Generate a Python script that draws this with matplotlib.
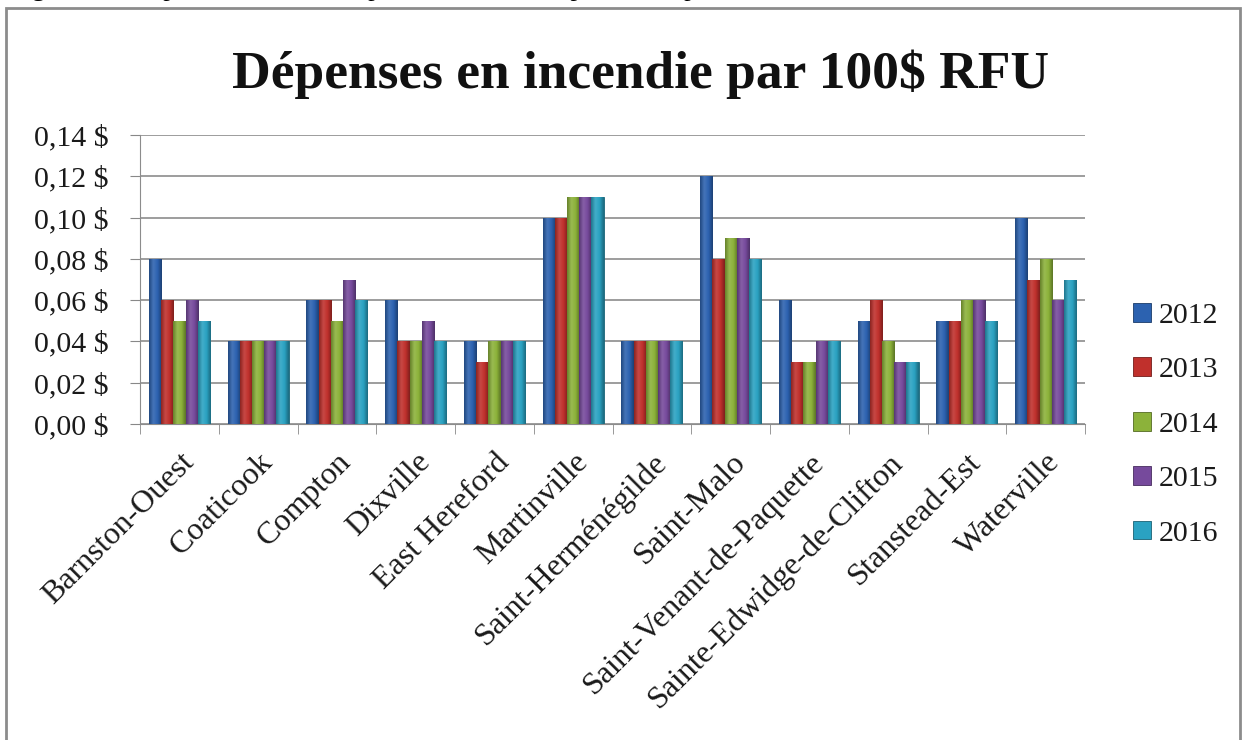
import matplotlib
matplotlib.use("Agg")
import matplotlib.pyplot as plt
import numpy as np
from matplotlib.colors import LinearSegmentedColormap, to_rgb
from matplotlib.patches import Rectangle
from matplotlib.transforms import ScaledTranslation

# data
municipalites = [
    "Barnston-Ouest", "Coaticook", "Compton", "Dixville", "East Hereford",
    "Martinville", "Saint-Herménégilde", "Saint-Malo", "Saint-Venant-de-Paquette",
    "Sainte-Edwidge-de-Clifton", "Stanstead-Est", "Waterville",
]
annees = ["2012", "2013", "2014", "2015", "2016"]
val_2012 = [0.08, 0.04, 0.06, 0.06, 0.04, 0.10, 0.04, 0.12, 0.06, 0.05, 0.05, 0.10]
val_2013 = [0.06, 0.04, 0.06, 0.04, 0.03, 0.10, 0.04, 0.08, 0.03, 0.06, 0.05, 0.07]
val_2014 = [0.05, 0.04, 0.05, 0.04, 0.04, 0.11, 0.04, 0.09, 0.03, 0.04, 0.06, 0.08]
val_2015 = [0.06, 0.04, 0.07, 0.05, 0.04, 0.11, 0.04, 0.09, 0.04, 0.03, 0.06, 0.06]
val_2016 = [0.05, 0.04, 0.06, 0.04, 0.04, 0.11, 0.04, 0.08, 0.04, 0.03, 0.05, 0.07]
y_ticks = [0.00, 0.02, 0.04, 0.06, 0.08, 0.10, 0.12, 0.14]

series = [val_2012, val_2013, val_2014, val_2015, val_2016]
colors = ["#2c62b0", "#c0302c", "#8cb23a", "#764a9c", "#2aa2c2"]

serif = ["Liberation Serif", "DejaVu Serif"]
txt_color = "#1a1a1a"


def shade(color, f):
    r, g, b = to_rgb(color)
    if f < 1:
        return (r * f, g * f, b * f)
    f = f - 1
    return (r + (1 - r) * f, g + (1 - g) * f, b + (1 - b) * f)


def gradient_bars(ax, bars, color):
    # rough imitation of the bevelled Excel bars
    cmap = LinearSegmentedColormap.from_list(
        "g", [shade(color, 0.72), shade(color, 1.12), shade(color, 1.0), shade(color, 0.65)]
    )
    grad = np.linspace(0, 1, 64).reshape(1, -1)
    for b in bars:
        x0, w, h = b.get_x(), b.get_width(), b.get_height()
        im = ax.imshow(grad, cmap=cmap, aspect="auto", extent=(x0, x0 + w, 0, h),
                       zorder=3, interpolation="bicubic")
        im.set_clip_path(b)


fig = plt.figure(figsize=(12.46, 7.40), dpi=100)
ax = fig.add_axes([0.1124, 0.427, 0.7584, 0.3905])

x = np.arange(len(municipalites))
width = 0.155
for i, (vals, yr, c) in enumerate(zip(series, annees, colors)):
    bars = ax.bar(x + (i - 2) * width, vals, width, color=c, edgecolor=shade(c, 0.6),
                  linewidth=0.6, label=yr, zorder=2)
    gradient_bars(ax, bars, c)

ax.set_xlim(-0.5, len(municipalites) - 0.5)
ax.set_ylim(0, 0.14)
ax.set_yticks(y_ticks)
ax.set_yticklabels([f"{v:.2f} $".replace(".", ",") for v in y_ticks],
                   family=serif, fontsize=21.5, color=txt_color)
ax.set_xticks(x)
ax.set_xticklabels(municipalites, rotation=45, ha="right", va="top",
                   rotation_mode="anchor", family=serif, fontsize=23, color=txt_color)
shift = ScaledTranslation(-2 / 100, 0, fig.dpi_scale_trans)
for lab in ax.get_xticklabels():
    lab.set_transform(lab.get_transform() + shift)
ax.tick_params(axis="x", length=0, pad=17)
ax.set_xticks(np.arange(len(municipalites) + 1) - 0.5, minor=True)
ax.tick_params(axis="x", which="minor", length=7, color="#888888")
ax.tick_params(axis="y", length=7.5, color="#888888", pad=15)
ax.grid(axis="y", color="#8c8c8c", linewidth=1.2, zorder=0)
ax.set_axisbelow(True)
for s in ["top", "right"]:
    ax.spines[s].set_visible(False)
ax.spines["left"].set_color("#8c8c8c")
ax.spines["bottom"].set_color("#8c8c8c")

fig.legend(loc="center left", bbox_to_anchor=(0.888, 0.426), frameon=False,
           prop={"family": serif, "size": 21.5}, handlelength=0.6, handleheight=0.6,
           handletextpad=0.25, labelspacing=0.95, labelcolor=txt_color)

fig.text(0.514, 0.881, "Dépenses en incendie par 100$ RFU", ha="center", va="baseline",
         family=serif, fontweight="bold", fontsize=38.5, color="#111111")

# figure caption, cut off at the top edge in the reference
fig.text(0.008, 1.006, "Figure 40 : Dépenses en incendie par 100 $ de RFU, par municipalité, 2012 à 2016",
         ha="left", va="baseline", family=serif, fontsize=19)

fig.patches.append(Rectangle((6 / 1246, -0.01), 1234 / 1246, 1 - 8 / 740 + 0.01,
                             transform=fig.transFigure, fill=False,
                             edgecolor="#8c8c8c", linewidth=2))

fig.savefig("out.png", dpi=100, facecolor="white")
